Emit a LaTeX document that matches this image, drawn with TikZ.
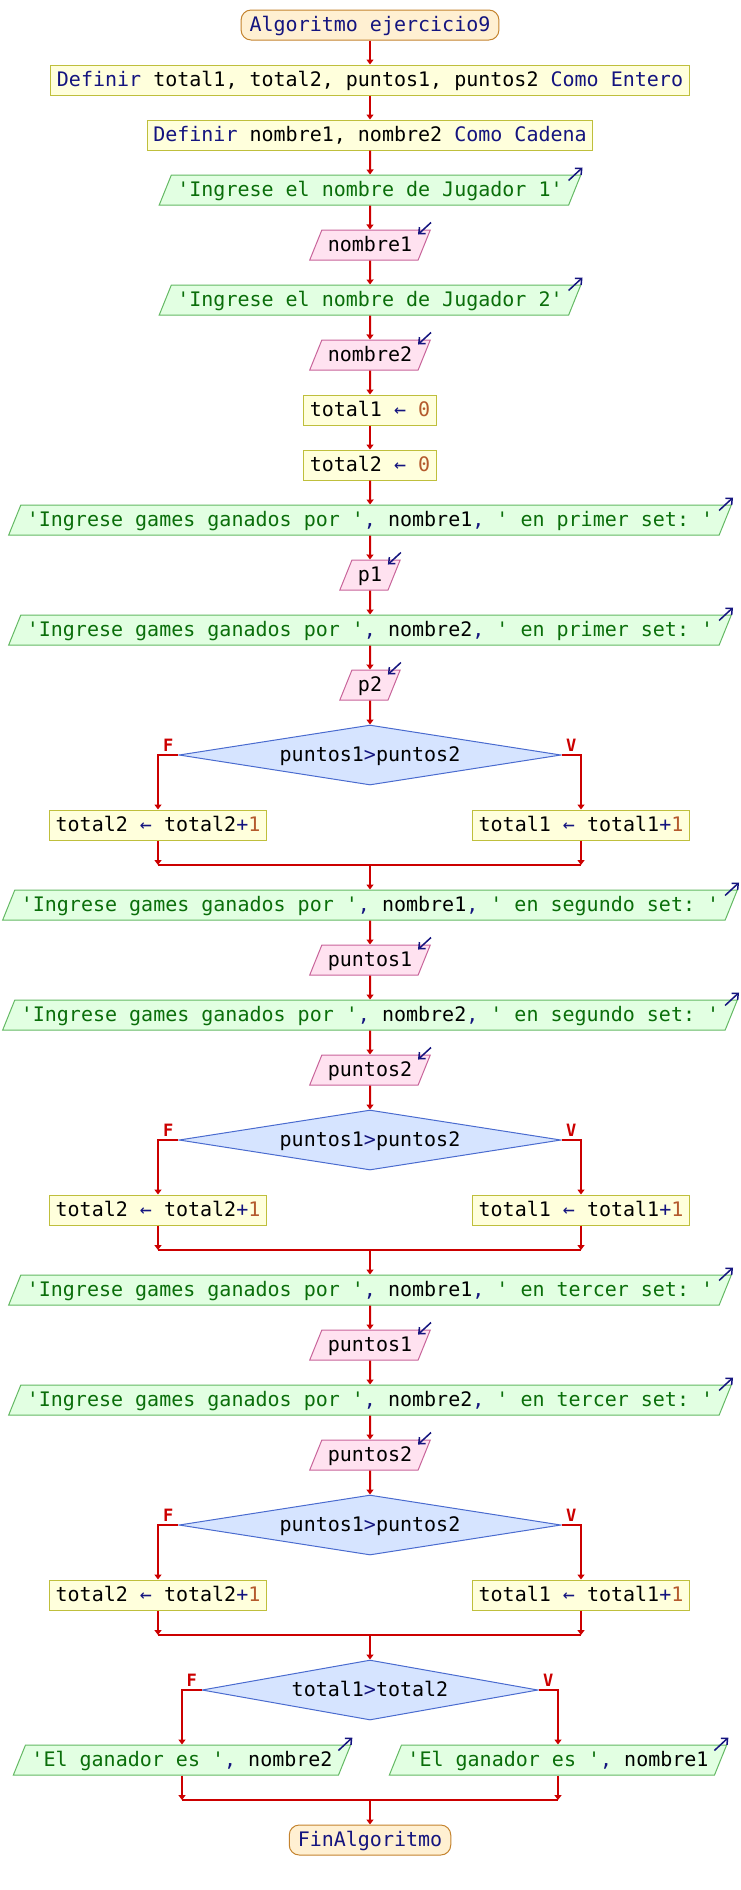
\documentclass[tikz,border=0pt]{standalone}
\usepackage{fontspec}
\setmonofont{DejaVu Sans Mono}
\usetikzlibrary{shapes.geometric,arrows.meta}

\definecolor{kwblue}{HTML}{14147F}
\definecolor{numcol}{HTML}{B45A2D}
\definecolor{termfill}{HTML}{FFF0D2}
\definecolor{termline}{HTML}{C4832E}
\definecolor{procfill}{HTML}{FFFFDC}
\definecolor{procline}{HTML}{BFBF3C}
\definecolor{outfill}{HTML}{E2FFE2}
\definecolor{outline}{HTML}{64B964}
\definecolor{outtext}{HTML}{0A6E0A}
\definecolor{infill}{HTML}{FFE2F0}
\definecolor{inline}{HTML}{C8649A}
\definecolor{decfill}{HTML}{D6E4FF}
\definecolor{decline}{HTML}{4A6BCF}
\definecolor{flowred}{HTML}{CC0000}

\newcommand{\kw}[1]{\textcolor{kwblue}{#1}}
\newcommand{\vr}[1]{\textcolor{black}{#1}}
\newcommand{\nm}[1]{\textcolor{numcol}{#1}}
\newcommand{\ingr}[2]{'Ingrese games ganados por '\kw{,} \vr{#1}\kw{,} ' en #2 set: '}

\tikzset{
  fc/.style={font=\ttfamily\fontsize{10}{12}\selectfont, text height=8pt, text depth=1.5pt,
    inner ysep=2.75pt, inner xsep=3pt, line width=0.5pt},
  termnode/.style={fc, rectangle, rounded corners=5pt, inner xsep=4.25pt, draw=termline, fill=termfill, text=kwblue},
  procnode/.style={fc, rectangle, draw=procline, fill=procfill},
  outnode/.style={fc, trapezium, trapezium left angle=68, trapezium right angle=112, draw=outline, fill=outfill, text=outtext},
  innode/.style={fc, trapezium, trapezium left angle=68, trapezium right angle=112, draw=inline, fill=infill},
  decnode/.style={fc, diamond, aspect=6, inner sep=0pt, minimum width=191pt, minimum height=30pt, draw=decline, fill=decfill},
  flow/.style={color=flowred, line width=1pt, -{Triangle[width=3.5pt,length=2.5pt]}},
  joinline/.style={color=flowred, line width=1pt},
  flag/.style={text=flowred, font=\ttfamily\bfseries\fontsize{8.5}{10}\selectfont, inner sep=1.5pt, above},
  ioarrow/.style={color=kwblue, line width=0.75pt, -{Straight Barb[length=2.5pt,width=4.5pt]}}
}

\begin{document}
\begin{tikzpicture}[x=0.5pt,y=-0.5pt]
    \useasboundingbox (0,0) rectangle (740,1890);

    \node[termnode] (start) at (370,25) {Algoritmo ejercicio9};
    \node[procnode] (def1) at (370,80) {\kw{Definir} total1, total2, puntos1, puntos2 \kw{Como Entero}};
    \node[procnode] (def2) at (370,135) {\kw{Definir} nombre1, nombre2 \kw{Como Cadena}};
    \node[outnode] (o1) at (370,190) {'Ingrese el nombre de Jugador 1'};
    \node[innode] (i1) at (370,245) {nombre1};
    \node[outnode] (o2) at (370,300) {'Ingrese el nombre de Jugador 2'};
    \node[innode] (i2) at (370,355) {nombre2};
    \node[procnode] (a1) at (370,410) {total1 \kw{←} \nm{0}};
    \node[procnode] (a2) at (370,465) {total2 \kw{←} \nm{0}};
    \node[outnode] (o3) at (370,520) {\ingr{nombre1}{primer}};
    \node[innode] (i3) at (370,575) {p1};
    \node[outnode] (o4) at (370,630) {\ingr{nombre2}{primer}};
    \node[innode] (i4) at (370,685) {p2};

    % primer set
    \node[decnode] (d1) at (370,755) {puntos1\kw{>}puntos2};
    \node[procnode] (b1f) at (158,825) {total2 \kw{←} total2\kw{+}\nm{1}};
    \node[procnode] (b1v) at (581,825) {total1 \kw{←} total1\kw{+}\nm{1}};
    \coordinate (m1f) at (158,865);
    \coordinate (m1) at (370,865);
    \coordinate (m1v) at (581,865);

    \node[outnode] (o5) at (370,905) {\ingr{nombre1}{segundo}};
    \node[innode] (i5) at (370,960) {puntos1};
    \node[outnode] (o6) at (370,1015) {\ingr{nombre2}{segundo}};
    \node[innode] (i6) at (370,1070) {puntos2};

    % segundo set
    \node[decnode] (d2) at (370,1140) {puntos1\kw{>}puntos2};
    \node[procnode] (b2f) at (158,1210) {total2 \kw{←} total2\kw{+}\nm{1}};
    \node[procnode] (b2v) at (581,1210) {total1 \kw{←} total1\kw{+}\nm{1}};
    \coordinate (m2f) at (158,1250);
    \coordinate (m2) at (370,1250);
    \coordinate (m2v) at (581,1250);

    \node[outnode] (o7) at (370,1290) {\ingr{nombre1}{tercer}};
    \node[innode] (i7) at (370,1345) {puntos1};
    \node[outnode] (o8) at (370,1400) {\ingr{nombre2}{tercer}};
    \node[innode] (i8) at (370,1455) {puntos2};

    % tercer set
    \node[decnode] (d3) at (370,1525) {puntos1\kw{>}puntos2};
    \node[procnode] (b3f) at (158,1595) {total2 \kw{←} total2\kw{+}\nm{1}};
    \node[procnode] (b3v) at (581,1595) {total1 \kw{←} total1\kw{+}\nm{1}};
    \coordinate (m3f) at (158,1635);
    \coordinate (m3) at (370,1635);
    \coordinate (m3v) at (581,1635);

    % ganador
    \node[decnode, minimum width=168pt] (d4) at (370,1690) {total1\kw{>}total2};
    \node[outnode] (o9) at (182,1760) {'El ganador es '\kw{,} \vr{nombre2}};
    \node[outnode] (o10) at (558,1760) {'El ganador es '\kw{,} \vr{nombre1}};
    \coordinate (m4f) at (182,1800);
    \coordinate (m4) at (370,1800);
    \coordinate (m4v) at (558,1800);
    \node[termnode] (fin) at (370,1840) {FinAlgoritmo};

    \path[flow] (start) edge (def1) (def1) edge (def2) (def2) edge (o1) (o1) edge (i1)
        (i1) edge (o2) (o2) edge (i2) (i2) edge (a1) (a1) edge (a2) (a2) edge (o3)
        (o3) edge (i3) (i3) edge (o4) (o4) edge (i4) (i4) edge (d1);
    \draw[flow] (d1) -| node[flag, pos=0.25] {F} (b1f);
    \draw[flow] (d1) -| node[flag, pos=0.25] {V} (b1v);
    \path[flow] (b1f) edge (m1f) (b1v) edge (m1v);
    \draw[joinline] (m1f) -- (m1v);
    \path[flow] (m1) edge (o5) (o5) edge (i5) (i5) edge (o6) (o6) edge (i6) (i6) edge (d2);
    \draw[flow] (d2) -| node[flag, pos=0.25] {F} (b2f);
    \draw[flow] (d2) -| node[flag, pos=0.25] {V} (b2v);
    \path[flow] (b2f) edge (m2f) (b2v) edge (m2v);
    \draw[joinline] (m2f) -- (m2v);
    \path[flow] (m2) edge (o7) (o7) edge (i7) (i7) edge (o8) (o8) edge (i8) (i8) edge (d3);
    \draw[flow] (d3) -| node[flag, pos=0.25] {F} (b3f);
    \draw[flow] (d3) -| node[flag, pos=0.25] {V} (b3v);
    \path[flow] (b3f) edge (m3f) (b3v) edge (m3v);
    \draw[joinline] (m3f) -- (m3v);
    \path[flow] (m3) edge (d4);
    \draw[flow] (d4) -| node[flag, pos=0.25] {F} (o9);
    \draw[flow] (d4) -| node[flag, pos=0.25] {V} (o10);
    \path[flow] (o9) edge (m4f) (o10) edge (m4v);
    \draw[joinline] (m4f) -- (m4v);
    \path[flow] (m4) edge (fin);

    % escribir / leer
    \foreach \n in {o1,o2,o3,o4,o5,o6,o7,o8,o9,o10}
        \draw[ioarrow] ([shift={(-13,6)}]\n.top right corner) -- ++(14,-13);
    \foreach \n in {i1,i2,i3,i4,i5,i6,i7,i8}
        \draw[ioarrow] ([shift={(0,-7)}]\n.top right corner) -- ++(-13,12);
\end{tikzpicture}
\end{document}
